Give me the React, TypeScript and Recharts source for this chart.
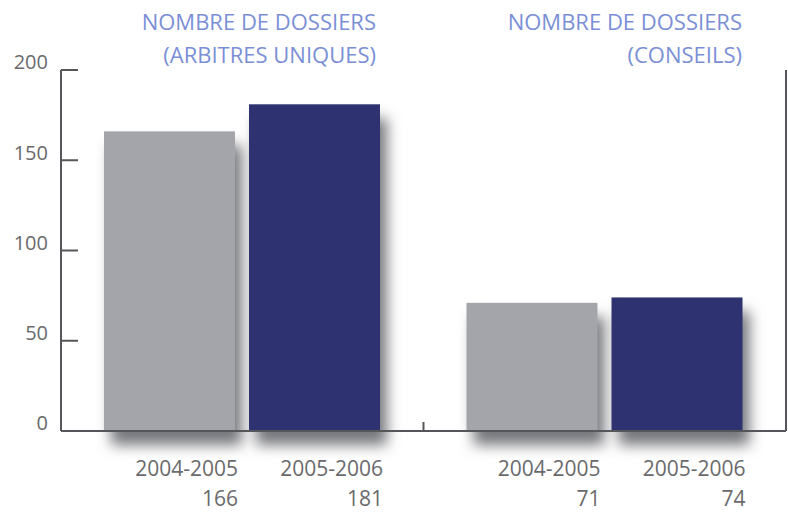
import React from 'react';
import { BarChart, Bar, XAxis, YAxis, LabelList } from 'recharts';

const groups = ['ARBITRES UNIQUES', 'CONSEILS'];
const periods = ['2004-2005', '2005-2006'];
const values20042005 = [166, 71];
const values20052006 = [181, 74];
const yTicks = [0, 50, 100, 150, 200];

const data = groups.map((g, i) => ({
  group: g,
  p1: values20042005[i],
  p2: values20052006[i],
}));

const AXIS = '#555659';
const TEXT = '#6a6a6c';
const GRAY = '#a3a5aa';
const NAVY = '#2f3271';
const TITLE = '#7b8fd6';
const FONT = '"Open Sans", "DejaVu Sans", sans-serif';

const LeftTick = (props: any) => {
  const { x, y, payload } = props;
  return (
    <g>
      <line x1={x} x2={x + 17} y1={y} y2={y} stroke={AXIS} strokeWidth={2} />
      <text x={x - 13} y={y - 6} textAnchor="end" dominantBaseline="middle" fill={TEXT} fontSize={20} fontFamily={FONT}>
        {payload.value}
      </text>
    </g>
  );
};

const RightTick = (props: any) => {
  const { x, y, payload } = props;
  if (payload.value === 0) return <g />;
  return <line x1={x} x2={x - 18} y1={y} y2={y} stroke={AXIS} strokeWidth={2} />;
};

const BottomTick = (props: any) => {
  const { x, y, payload, index } = props;
  if (index === 0 || !payload || payload.offset == null) return <g />;
  const bx = x - payload.offset;
  return <line x1={bx} x2={bx} y1={y} y2={y - 9} stroke={AXIS} strokeWidth={2} />;
};

const makeLabel = (period: string) => (props: any) => {
  const { x, y, width, height, value } = props;
  const right = x + width + 3;
  const base = y + height;
  return (
    <g>
      <text x={right} y={base + 45} textAnchor="end" fill={TEXT} fontSize={21} fontFamily={FONT}>
        {period}
      </text>
      <text x={right} y={base + 75} textAnchor="end" fill={TEXT} fontSize={21} fontFamily={FONT}>
        {value}
      </text>
    </g>
  );
};

const ShadowBar = (props: any) => {
  const { x, y, width, height, fill } = props;
  return (
    <g>
      <rect x={x} y={y} width={width} height={height} fill="#76777c" filter="url(#barShadow)" />
      <rect x={x} y={y} width={width} height={height} fill={fill} />
    </g>
  );
};

const titleStyle: React.CSSProperties = {
  position: 'absolute',
  color: TITLE,
  fontFamily: FONT,
  fontSize: 22,
  lineHeight: '33px',
  textAlign: 'right',
  whiteSpace: 'nowrap',
};

export default function App() {
  return (
    <div style={{ position: 'absolute', left: 0, top: 0, width: 788, height: 512, background: '#fff', overflow: 'hidden' }}>
      <svg width={0} height={0} style={{ position: 'absolute' }}>
        <defs>
          <filter id="barShadow" x="-30%" y="-30%" width="160%" height="160%">
            <feOffset dx={7} dy={14} in="SourceGraphic" result="off" />
            <feGaussianBlur in="off" stdDeviation={7} />
          </filter>
        </defs>
      </svg>
      <BarChart
        width={788}
        height={512}
        data={data}
        margin={{ top: 70, right: 0, left: 0, bottom: 0 }}
        barSize={131}
        barGap={14}
      >
        <XAxis
          dataKey="group"
          height={81}
          axisLine={{ stroke: AXIS, strokeWidth: 2 }}
          tickLine={false}
          tickSize={0}
          tickMargin={0}
          tick={<BottomTick />}
          interval={0}
        />
        <YAxis
          yAxisId="l"
          width={61}
          domain={[0, 200]}
          ticks={yTicks}
          axisLine={{ stroke: AXIS, strokeWidth: 2 }}
          tickLine={false}
          tickSize={0}
          tickMargin={0}
          tick={<LeftTick />}
        />
        <YAxis
          yAxisId="r"
          orientation="right"
          width={2}
          domain={[0, 200]}
          ticks={yTicks}
          axisLine={{ stroke: AXIS, strokeWidth: 2 }}
          tickLine={false}
          tickSize={0}
          tickMargin={0}
          tick={<RightTick />}
        />
        <Bar yAxisId="l" dataKey="p1" fill={GRAY} shape={<ShadowBar />} isAnimationActive={false}>
          <LabelList dataKey="p1" content={makeLabel(periods[0])} />
        </Bar>
        <Bar yAxisId="l" dataKey="p2" fill={NAVY} shape={<ShadowBar />} isAnimationActive={false}>
          <LabelList dataKey="p2" content={makeLabel(periods[1])} />
        </Bar>
      </BarChart>
      <div style={{ ...titleStyle, right: 788 - 376, top: 5 }}>
        NOMBRE DE DOSSIERS
        <br />({groups[0]})
      </div>
      <div style={{ ...titleStyle, right: 788 - 742, top: 5 }}>
        NOMBRE DE DOSSIERS
        <br />({groups[1]})
      </div>
    </div>
  );
}
